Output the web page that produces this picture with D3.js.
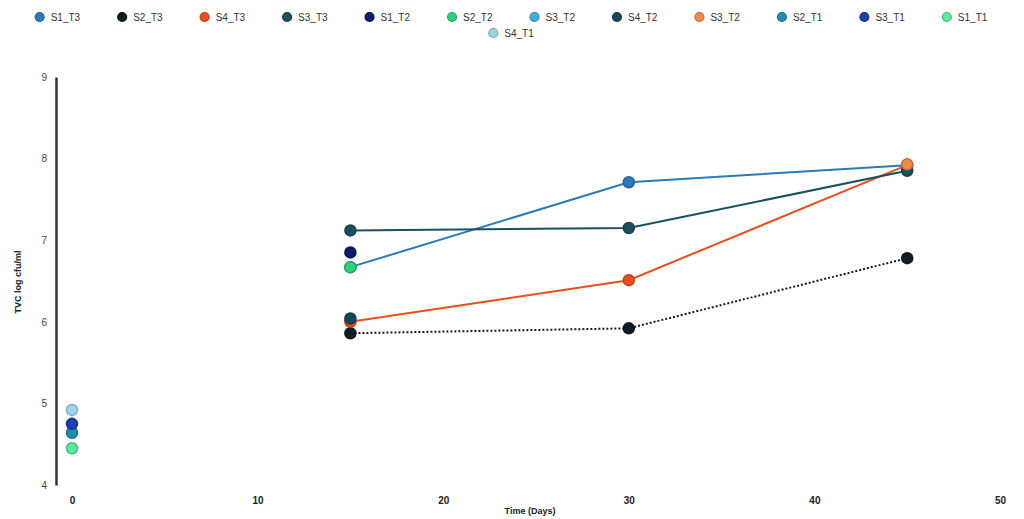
<!DOCTYPE html>
<html>
<head>
<meta charset="utf-8">
<script src="https://cdn.jsdelivr.net/npm/d3@7"></script>
<style>
  body { margin: 0; background: #fff; }
  svg { font-family: "Liberation Sans", Arial, sans-serif; }
</style>
</head>
<body>
<svg id="svg"></svg>
<script>
// data
let days = [0, 15, 30, 45];
let seriesNames = ["S1_T3", "S2_T3", "S4_T3", "S3_T3", "S1_T2", "S2_T2", "S3_T2", "S4_T2", "S3_T2", "S2_T1", "S3_T1", "S1_T1", "S4_T1"];
let seriesColors = ["#2b7bb9", "#111c24", "#e8501c", "#1c4f5e", "#0b1d6b", "#2fd07a", "#4aa8e0", "#17485a", "#f08a4b", "#1f8fb0", "#1d3fb0", "#5ee8a0", "#9fd3ea"];
let S1_T3 = [null, 6.67, 7.71, 7.92];
let S2_T3 = [null, 5.86, 5.92, 6.78];
let S4_T3 = [null, 6.00, 6.51, 7.92];
let S3_T3 = [null, 7.12, 7.15, 7.85];
let S1_T2 = [null, 6.85, null, null];
let S2_T2 = [null, 6.67, null, null];
let S3_T2a = [null, null, null, null];   // not visible in the picture
let S4_T2 = [null, 6.04, null, null];
let S3_T2b = [null, null, null, 7.93];
let S2_T1 = [4.64, null, null, null];
let S3_T1 = [4.75, null, null, null];
let S1_T1 = [4.45, null, null, null];
let S4_T1 = [4.92, null, null, null];
let seriesValues = [S1_T3, S2_T3, S4_T3, S3_T3, S1_T2, S2_T2, S3_T2a, S4_T2, S3_T2b, S2_T1, S3_T1, S1_T1, S4_T1];
let dashed = [false, true, false, false, false, false, false, false, false, false, false, false, false];
let xTicks = [0, 10, 20, 30, 40, 50];
let yTicks = [4, 5, 6, 7, 8, 9];

let width = 1024, height = 519;
let svg = d3.select("#svg").attr("width", width).attr("height", height);

let x = d3.scaleLinear().domain([0, 50]).range([72, 1000]);
let y = d3.scaleLinear().domain([4, 9]).range([485, 77]);

// y axis: only a vertical line and labels
let yAxis = svg.append("g")
  .attr("transform", "translate(56,0)")
  .call(d3.axisLeft(y).tickValues(yTicks).tickSize(0).tickPadding(9).tickFormat(d3.format("d")));
yAxis.select(".domain").attr("stroke", "#333").attr("stroke-width", 2.5);
yAxis.selectAll("text").attr("font-size", 10).attr("fill", "#444");

// x axis: labels only
let xAxis = svg.append("g")
  .attr("transform", "translate(0,487)")
  .call(d3.axisBottom(x).tickValues(xTicks).tickSize(0).tickPadding(10).tickFormat(d3.format("d")));
xAxis.select(".domain").remove();
xAxis.selectAll("text").attr("font-size", 10).attr("fill", "#222").attr("font-weight", "bold");

svg.append("text")
  .attr("transform", "translate(21,282) rotate(-90)")
  .attr("text-anchor", "middle")
  .attr("font-size", 9).attr("font-weight", "bold").attr("fill", "#222")
  .text("TVC log cfu/ml");

svg.append("text")
  .attr("x", 530).attr("y", 514)
  .attr("text-anchor", "middle")
  .attr("font-size", 9).attr("font-weight", "bold").attr("fill", "#222")
  .text("Time (Days)");

// lines
let line = d3.line()
  .defined(d => d.v !== null)
  .x(d => x(d.day))
  .y(d => y(d.v));

seriesValues.forEach(function(vals, i) {
  let pts = vals.map((v, j) => ({ day: days[j], v: v }));
  if (pts.filter(p => p.v !== null).length > 1) {
    svg.append("path")
      .datum(pts)
      .attr("fill", "none")
      .attr("stroke", seriesColors[i])
      .attr("stroke-width", 2)
      .attr("stroke-dasharray", dashed[i] ? "2,2" : null)
      .attr("d", line);
  }
});

// points
seriesValues.forEach(function(vals, i) {
  let pts = vals.map((v, j) => ({ day: days[j], v: v })).filter(p => p.v !== null);
  svg.selectAll(null)
    .data(pts)
    .enter()
    .append("circle")
    .attr("cx", d => x(d.day))
    .attr("cy", d => y(d.v))
    .attr("r", 5.5)
    .attr("fill", seriesColors[i])
    .attr("stroke", d3.color(seriesColors[i]).darker(0.6))
    .attr("stroke-width", 1.5);
});

// legend, wrapped and centered like the original
let legendFont = 10;
let tmp = svg.append("text").attr("font-size", legendFont);
let items = seriesNames.map(function(name, i) {
  tmp.text(name);
  let w = tmp.node().getComputedTextLength();
  return { name: name, color: seriesColors[i], w: 18 + w };
});
tmp.remove();

let gap = 35, maxRow = 985;
let rows = [[]], rowW = [0];
items.forEach(function(it) {
  let r = rows.length - 1;
  let add = (rows[r].length ? gap : 0) + it.w;
  if (rowW[r] + add > maxRow) { rows.push([]); rowW.push(0); r++; add = it.w; }
  rows[r].push(it);
  rowW[r] += add;
});

rows.forEach(function(row, ri) {
  let cx = (width - rowW[ri]) / 2;
  let cy = 17 + ri * 16;
  row.forEach(function(it) {
    let g = svg.append("g").attr("transform", "translate(" + cx + "," + cy + ")");
    g.append("circle").attr("cx", 5).attr("cy", 0).attr("r", 4.5)
      .attr("fill", it.color).attr("stroke", d3.color(it.color).darker(0.6)).attr("stroke-width", 1.2);
    g.append("text").attr("x", 16).attr("y", 3.5)
      .attr("font-size", legendFont).attr("fill", "#333").text(it.name);
    cx += it.w + gap;
  });
});
</script>
</body>
</html>
